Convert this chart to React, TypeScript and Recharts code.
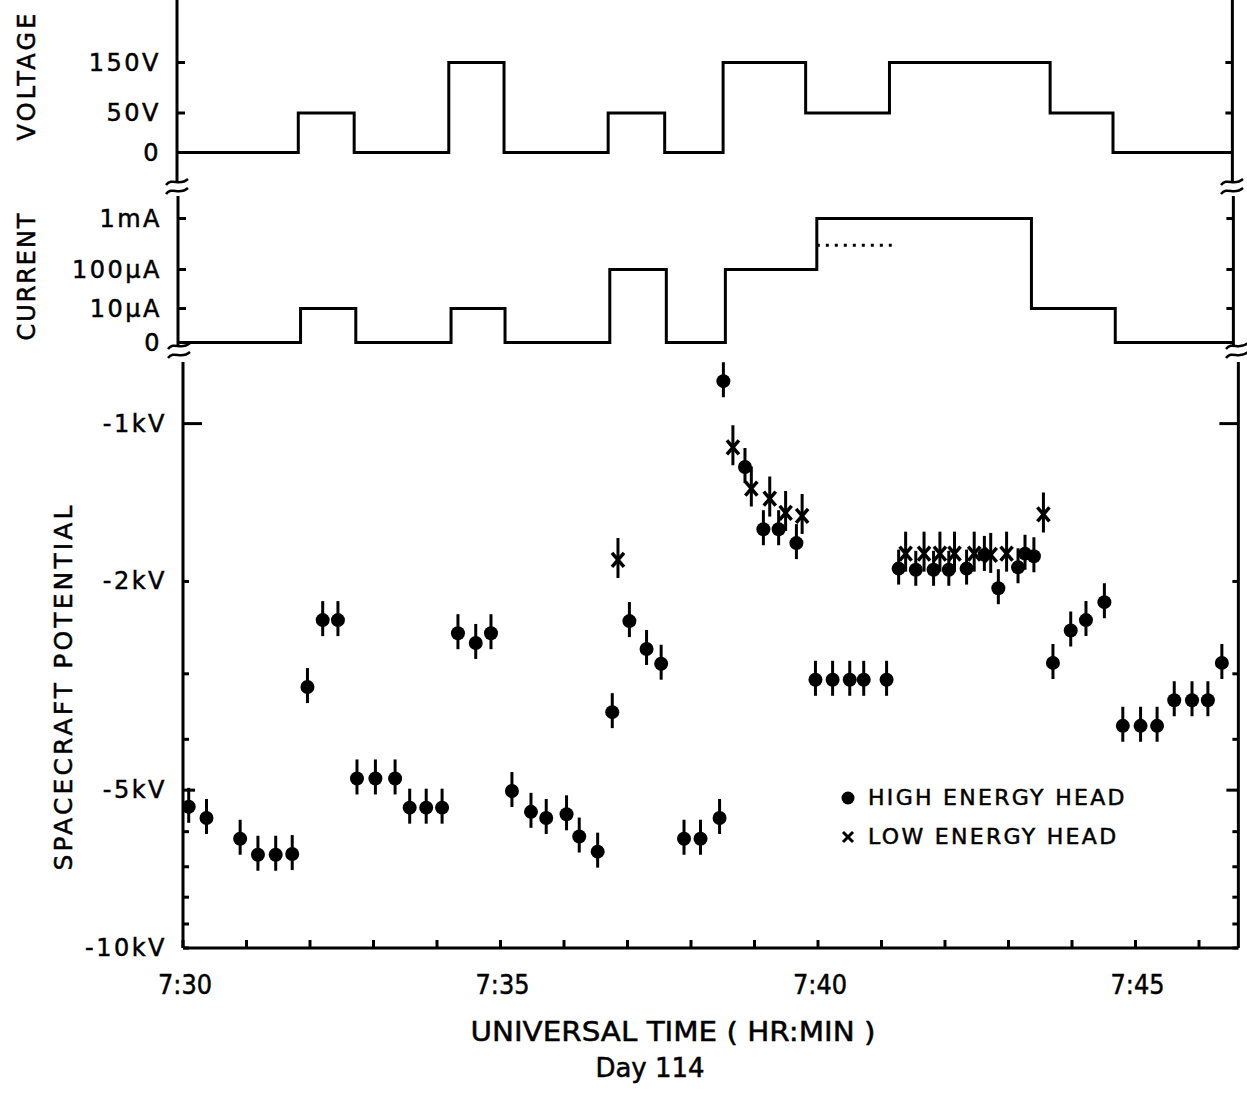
import React from 'react';
import { ComposedChart, Line, Scatter, XAxis, YAxis, Legend } from 'recharts';

const FONT = '"DejaVu Sans", Verdana, sans-serif';
const INK = '#000';
const TEXT_STROKE = 0.5;

// time axis: minutes after 7:30 UT, day 114
const X_MAX = 16.62;
const MINUTE_TICKS = [0, 1, 2, 3, 4, 5, 6, 7, 8, 9, 10, 11, 12, 13, 14, 15, 16];
const PX_PER_MIN = 63.5;
const PLOT_W = X_MAX * PX_PER_MIN;

// gun voltage (V), value holds from each time to the next
const VOLT_TIMES = [0, 1.91, 2.79, 4.28, 5.15, 6.79, 7.68, 8.6, 9.9, 11.22, 13.75, 14.74, X_MAX];
const VOLT_VALUES = [0, 50, 0, 150, 0, 50, 0, 150, 50, 150, 50, 0, 0];

// beam current (µA)
const CURR_TIMES = [0, 1.93, 2.8, 4.3, 5.15, 6.8, 7.69, 8.62, 10.06, 13.44, 14.76, X_MAX];
const CURR_VALUES = [0, 10, 0, 10, 0, 100, 0, 100, 1000, 10, 0, 0];
const DOTTED_TIMES = [10.06, 11.24];
const DOTTED_VALUES = [300, 300];

// spacecraft potential (kV)
const HIGH_TIMES = [
  0.09, 0.37, 0.9, 1.18, 1.46, 1.72, 1.96, 2.2, 2.44, 2.74, 3.03, 3.34, 3.57, 3.83, 4.08, 4.33,
  4.61, 4.85, 5.18, 5.48, 5.72, 6.04, 6.24, 6.53, 6.76, 7.03, 7.3, 7.53, 7.89, 8.15, 8.45, 8.51,
  8.85, 9.14, 9.38, 9.66, 9.96, 10.23, 10.5, 10.72, 11.08, 11.27, 11.54, 11.82, 12.06, 12.34,
  12.62, 12.84, 13.15, 13.26, 13.4, 13.7, 13.98, 14.22, 14.51, 14.8, 15.08, 15.34, 15.61, 15.89,
  16.14, 16.36,
];
const HIGH_KV = [
  -5.38, -5.65, -6.19, -6.64, -6.64, -6.62, -3.18, -2.37, -2.37, -4.75, -4.75, -4.75, -5.4, -5.4,
  -5.4, -2.51, -2.62, -2.51, -5.02, -5.5, -5.65, -5.56, -6.13, -6.55, -3.55, -2.38, -2.69, -2.87,
  -6.19, -6.19, -5.65, -0.83, -1.21, -1.59, -1.59, -1.69, -3.08, -3.08, -3.08, -3.08, -3.08,
  -1.89, -1.9, -1.9, -1.9, -1.89, -1.78, -2.06, -1.88, -1.77, -1.79, -2.86, -2.48, -2.37, -2.19,
  -3.77, -3.77, -3.77, -3.37, -3.37, -3.37, -2.86,
];
const LOW_TIMES = [6.85, 8.66, 8.95, 9.24, 9.49, 9.75, 11.38, 11.67, 11.92, 12.15, 12.46, 12.72, 12.97, 13.55];
const LOW_KV = [-1.82, -1.11, -1.33, -1.39, -1.48, -1.5, -1.77, -1.77, -1.77, -1.77, -1.77, -1.78, -1.77, -1.49];

const HIGH_NAME = 'HIGH ENERGY HEAD';
const LOW_NAME = 'LOW ENERGY HEAD';

// the upper panels are hand-drawn with uneven spacing between levels
const VOLT_TICKS = [0, 50, 150];
const VOLT_LABELS = ['0', '50V', '150V'];
const VOLT_LEVEL = [0, 39.5, 90];
const CURR_TICKS = [0, 10, 100, 1000];
const CURR_LABELS = ['0', '10µA', '100µA', '1mA'];
const CURR_LEVEL = [0, 34, 73, 124];

const POT_TICKS = [1, 2, 3, 4, 5, 6, 7, 8, 9, 10];
const POT_LABELED = [1, 2, 5, 10];

const voltLevel = (v: number) => VOLT_LEVEL[VOLT_TICKS.indexOf(v)];
const currLevel = (ua: number) => {
  const i = CURR_TICKS.indexOf(ua);
  if (i >= 0) return CURR_LEVEL[i];
  let k = 1;
  while (CURR_TICKS[k + 1] < ua) k++;
  const f = Math.log10(ua / CURR_TICKS[k]) / Math.log10(CURR_TICKS[k + 1] / CURR_TICKS[k]);
  return CURR_LEVEL[k] + f * (CURR_LEVEL[k + 1] - CURR_LEVEL[k]);
};

const voltData = VOLT_TIMES.map((t, i) => ({ t, pos: voltLevel(VOLT_VALUES[i]) }));
const currData = CURR_TIMES.map((t, i) => ({ t, pos: currLevel(CURR_VALUES[i]) }));
const dottedData = DOTTED_TIMES.map((t, i) => ({ t, pos: currLevel(DOTTED_VALUES[i]) }));
const highData = HIGH_TIMES.map((t, i) => ({ t, mag: -HIGH_KV[i] }));
const lowData = LOW_TIMES.map((t, i) => ({ t, mag: -LOW_KV[i] }));

const AXIS_LINE = { stroke: INK, strokeWidth: 3 };

// ticks point into the plot, labels sit outside
const sideTick =
  (side: 'left' | 'right', lenOf: (v: number) => number, labelOf?: (v: number) => string) =>
  (p: any) => {
    const { x, y, payload } = p;
    const v = payload.value;
    const len = lenOf(v);
    const dir = side === 'left' ? 1 : -1;
    const label = labelOf ? labelOf(v) : '';
    return (
      <g>
        {len > 0 && <line x1={x} x2={x + dir * len} y1={y} y2={y} stroke={INK} strokeWidth={3} />}
        {label && (
          <text
            x={x - 16}
            y={y}
            textAnchor="end"
            dominantBaseline="central"
            fontFamily={FONT}
            fontSize={24}
            letterSpacing={2.5}
            fill={INK}
            stroke={INK}
            strokeWidth={TEXT_STROKE}
          >
            {label}
          </text>
        )}
      </g>
    );
  };

const TimeTick = (p: any) => {
  const { x, y, payload } = p;
  const m = payload.value;
  return (
    <g>
      <line x1={x} x2={x} y1={y} y2={y - 8} stroke={INK} strokeWidth={3} />
      {m % 5 === 0 && (
        <text
          x={x + 2}
          y={y + 37}
          textAnchor="middle"
          dominantBaseline="central"
          fontFamily={FONT}
          fontSize={26}
          textLength={54}
          lengthAdjust="spacingAndGlyphs"
          fill={INK}
          stroke={INK}
          strokeWidth={TEXT_STROKE}
        >
          {`7:${30 + m}`}
        </text>
      )}
    </g>
  );
};

const HighMarker = (p: any) => {
  const { cx, cy } = p;
  return (
    <g>
      <line x1={cx} x2={cx} y1={cy - 19} y2={cy + 16} stroke={INK} strokeWidth={3} />
      <circle cx={cx} cy={cy} r={7} fill={INK} />
    </g>
  );
};

const LowMarker = (p: any) => {
  const { cx, cy } = p;
  return (
    <g>
      <line x1={cx} x2={cx} y1={cy - 22} y2={cy + 18} stroke={INK} strokeWidth={3} />
      <path
        d={`M${cx - 6},${cy - 7}L${cx + 6},${cy + 7}M${cx + 6},${cy - 7}L${cx - 6},${cy + 7}`}
        stroke={INK}
        strokeWidth={3.5}
      />
    </g>
  );
};

const LegendContent = ({ payload }: any) => (
  <div style={{ fontFamily: FONT, fontSize: 22, letterSpacing: 2.3, color: INK, WebkitTextStroke: `${TEXT_STROKE}px ${INK}` }}>
    {(payload || []).map((e: any) => (
      <div key={e.value} style={{ display: 'flex', alignItems: 'center', height: 39 }}>
        <svg width={24} height={24} style={{ marginRight: 8 }}>
          {e.value === HIGH_NAME ? (
            <circle cx={12} cy={12} r={6.5} fill={INK} />
          ) : (
            <path d="M7,7L17,17M17,7L7,17" stroke={INK} strokeWidth={3} />
          )}
        </svg>
        <span>{e.value}</span>
      </div>
    ))}
  </div>
);

const VoltagePanel = () => {
  const left = 177;
  const domain: [number, number] = [-29.5, 152.5];
  return (
    <ComposedChart width={1247} height={182} data={voltData} margin={{ top: 0, right: 0, bottom: 0, left: 0 }}>
      <XAxis type="number" dataKey="t" domain={[0, X_MAX]} allowDataOverflow hide />
      <YAxis
        yAxisId="l"
        type="number"
        domain={domain}
        allowDataOverflow
        ticks={VOLT_LEVEL}
        interval={0}
        width={left}
        axisLine={AXIS_LINE}
        tickLine={false}
        tickSize={0}
        tickMargin={0}
        tick={sideTick('left', (v) => (v === 0 ? 0 : 8), (v) => VOLT_LABELS[VOLT_LEVEL.indexOf(v)])}
      />
      <YAxis
        yAxisId="r"
        orientation="right"
        type="number"
        domain={domain}
        allowDataOverflow
        ticks={VOLT_LEVEL}
        interval={0}
        width={1247 - left - PLOT_W}
        axisLine={AXIS_LINE}
        tickLine={false}
        tickSize={0}
        tickMargin={0}
        tick={sideTick('right', (v) => (v === 0 ? 0 : 7))}
      />
      <Line yAxisId="l" type="stepAfter" dataKey="pos" stroke={INK} strokeWidth={3} dot={false} isAnimationActive={false} />
    </ComposedChart>
  );
};

const CurrentPanel = () => {
  const left = 178;
  const domain: [number, number] = [-3.5, 146.5];
  return (
    <ComposedChart width={1247} height={166} data={currData} margin={{ top: 0, right: 0, bottom: 16, left: 0 }}>
      <XAxis type="number" dataKey="t" domain={[0, X_MAX]} allowDataOverflow hide />
      <YAxis
        yAxisId="l"
        type="number"
        domain={domain}
        allowDataOverflow
        ticks={CURR_LEVEL}
        interval={0}
        width={left}
        axisLine={AXIS_LINE}
        tickLine={false}
        tickSize={0}
        tickMargin={0}
        tick={sideTick('left', (v) => (v === 0 ? 0 : 8), (v) => CURR_LABELS[CURR_LEVEL.indexOf(v)])}
      />
      <YAxis
        yAxisId="r"
        orientation="right"
        type="number"
        domain={domain}
        allowDataOverflow
        ticks={CURR_LEVEL}
        interval={0}
        width={1247 - left - PLOT_W}
        axisLine={AXIS_LINE}
        tickLine={false}
        tickSize={0}
        tickMargin={0}
        tick={sideTick('right', (v) => (v === 0 ? 0 : 7))}
      />
      <Line yAxisId="l" type="stepAfter" dataKey="pos" stroke={INK} strokeWidth={3} dot={false} isAnimationActive={false} />
      <Line
        yAxisId="l"
        data={dottedData}
        type="linear"
        dataKey="pos"
        stroke={INK}
        strokeWidth={3}
        strokeDasharray="3 6"
        dot={false}
        isAnimationActive={false}
      />
    </ComposedChart>
  );
};

const PotentialPanel = () => {
  const left = 183;
  const domain: [number, number] = [0.763, 10];
  const potLen = (v: number) => (v === 1 ? 19 : v === 5 ? 12 : 6);
  return (
    <ComposedChart width={1247} height={646} margin={{ top: 0, right: 0, bottom: 0, left: 0 }}>
      <XAxis
        type="number"
        dataKey="t"
        domain={[0, X_MAX]}
        allowDataOverflow
        ticks={MINUTE_TICKS}
        interval={0}
        height={60}
        axisLine={AXIS_LINE}
        tickLine={false}
        tickSize={0}
        tickMargin={0}
        tick={TimeTick}
      />
      <YAxis
        yAxisId="l"
        dataKey="mag"
        type="number"
        scale="log"
        reversed
        domain={domain}
        allowDataOverflow
        ticks={POT_TICKS}
        interval={0}
        width={left}
        axisLine={AXIS_LINE}
        tickLine={false}
        tickSize={0}
        tickMargin={0}
        tick={sideTick('left', potLen, (v) => (POT_LABELED.includes(v) ? `-${v}kV` : ''))}
      />
      <YAxis
        yAxisId="r"
        orientation="right"
        type="number"
        scale="log"
        reversed
        domain={domain}
        allowDataOverflow
        ticks={POT_TICKS}
        interval={0}
        width={1247 - left - PLOT_W}
        axisLine={AXIS_LINE}
        tickLine={false}
        tickSize={0}
        tickMargin={0}
        tick={sideTick('right', potLen)}
      />
      <Scatter yAxisId="l" name={HIGH_NAME} data={highData} fill={INK} shape={HighMarker} isAnimationActive={false} />
      <Scatter yAxisId="l" name={LOW_NAME} data={lowData} fill={INK} shape={LowMarker} isAnimationActive={false} />
      <Legend
        layout="vertical"
        align="center"
        verticalAlign="middle"
        content={LegendContent}
        wrapperStyle={{ left: 836, top: 416, width: 320 }}
      />
    </ComposedChart>
  );
};

// axis break mark drawn over an axis line
const Break = ({ cx, cy }: { cx: number; cy: number }) => {
  const a = `M${cx - 11},${cy - 1}C${cx - 5},${cy - 9} ${cx + 2},${cy + 1} ${cx + 11},${cy - 7}`;
  const b = `M${cx - 11},${cy + 8}C${cx - 5},${cy} ${cx + 2},${cy + 10} ${cx + 11},${cy + 2}`;
  const fill = `${a}L${cx + 11},${cy + 2}C${cx + 2},${cy + 10} ${cx - 5},${cy} ${cx - 11},${cy + 8}Z`;
  return (
    <g>
      <path d={fill} fill="#fff" />
      <path d={a} fill="none" stroke={INK} strokeWidth={2.5} />
      <path d={b} fill="none" stroke={INK} strokeWidth={2.5} />
    </g>
  );
};

const titleProps = {
  textAnchor: 'middle' as const,
  dominantBaseline: 'central' as const,
  fontFamily: FONT,
  fill: INK,
  stroke: INK,
  strokeWidth: TEXT_STROKE,
};

const Titles = () => (
  <svg width={1247} height={1097} style={{ position: 'absolute', left: 0, top: 0, pointerEvents: 'none' }}>
    <Break cx={177} cy={186} />
    <Break cx={179} cy={350} />
    <Break cx={1232} cy={186} />
    <Break cx={1237} cy={350} />
    <text transform="translate(27,77) rotate(-90)" fontSize={24} textLength={127} lengthAdjust="spacing" {...titleProps}>
      VOLTAGE
    </text>
    <text transform="translate(27,277) rotate(-90)" fontSize={24} textLength={127} lengthAdjust="spacing" {...titleProps}>
      CURRENT
    </text>
    <text transform="translate(63,688) rotate(-90)" fontSize={25} textLength={365} lengthAdjust="spacing" {...titleProps}>
      SPACECRAFT POTENTIAL
    </text>
    <text x={673} y={1031} fontSize={27} textLength={405} lengthAdjust="spacingAndGlyphs" {...titleProps}>
      UNIVERSAL TIME ( HR:MIN )
    </text>
    <text x={650} y={1068} fontSize={26} {...titleProps}>
      Day 114
    </text>
  </svg>
);

export default function App() {
  return (
    <div style={{ position: 'absolute', left: 0, top: 0, width: 1247, height: 1097, background: '#fff', overflow: 'hidden' }}>
      <div style={{ position: 'absolute', left: 0, top: 0 }}>
        <VoltagePanel />
      </div>
      <div style={{ position: 'absolute', left: 0, top: 196 }}>
        <CurrentPanel />
      </div>
      <div style={{ position: 'absolute', left: 0, top: 362 }}>
        <PotentialPanel />
      </div>
      <Titles />
    </div>
  );
}
